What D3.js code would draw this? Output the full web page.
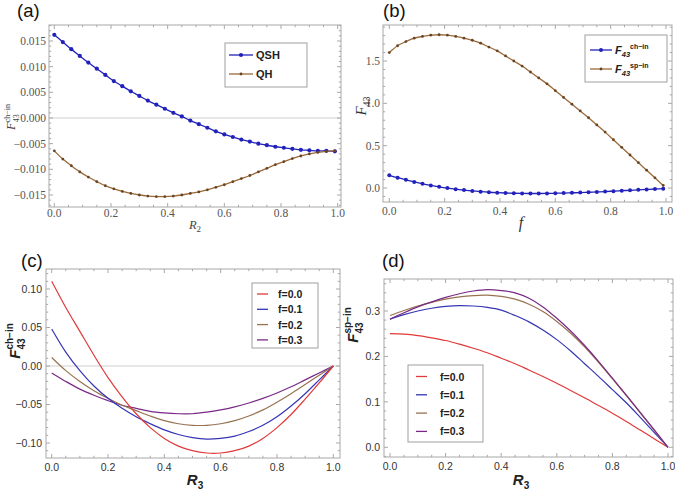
<!DOCTYPE html>
<html><head><meta charset="utf-8">
<script src="https://cdn.jsdelivr.net/npm/d3@7"></script>
<style>body{margin:0;background:#fff}svg{display:block}</style>
</head><body>
<svg id="c" width="675" height="491"></svg>
<script>
// ---------- DATA ----------
const xA = [0,0.03,0.06,0.09,0.12,0.15,0.18,0.21,0.24,0.27,0.30,0.33,0.36,0.39,0.42,0.45,0.48,0.51,0.54,0.57,0.60,0.63,0.66,0.69,0.72,0.75,0.78,0.81,0.84,0.87,0.90,0.93,0.96,0.99];
const qshA = [0.0162,0.0148,0.0134,0.0121,0.0108,0.0096,0.0084,0.0072,0.0062,0.0052,0.0043,0.0034,0.0026,0.0018,0.0010,0.0003,-0.0005,-0.0012,-0.0019,-0.0026,-0.0032,-0.0037,-0.0042,-0.0046,-0.0050,-0.0053,-0.0056,-0.0058,-0.0060,-0.0062,-0.0063,-0.0064,-0.0064,-0.0065];
const qhA = [-0.0064,-0.0080,-0.0093,-0.0105,-0.0115,-0.0124,-0.0132,-0.0138,-0.0143,-0.0147,-0.0150,-0.0152,-0.0153,-0.0153,-0.0152,-0.0150,-0.0147,-0.0144,-0.0140,-0.0135,-0.0130,-0.0124,-0.0118,-0.0112,-0.0105,-0.0098,-0.0091,-0.0085,-0.0079,-0.0074,-0.0070,-0.0067,-0.0065,-0.0064];
const chB = [0.150,0.122,0.096,0.072,0.050,0.031,0.014,-0.001,-0.014,-0.025,-0.035,-0.043,-0.050,-0.055,-0.059,-0.062,-0.064,-0.065,-0.065,-0.064,-0.062,-0.060,-0.057,-0.054,-0.050,-0.046,-0.042,-0.037,-0.032,-0.027,-0.022,-0.017,-0.012,-0.008];
const spB = [1.60,1.68,1.73,1.77,1.79,1.805,1.81,1.805,1.79,1.77,1.745,1.71,1.665,1.62,1.56,1.50,1.44,1.37,1.30,1.23,1.15,1.07,0.99,0.91,0.83,0.745,0.66,0.57,0.48,0.39,0.30,0.21,0.12,0.03];

const xR = [0,0.05,0.10,0.15,0.20,0.25,0.30,0.35,0.40,0.45,0.50,0.55,0.60,0.65,0.70,0.75,0.80,0.85,0.90,0.95,1.00];
const fLabels = ["f=0.0","f=0.1","f=0.2","f=0.3"];
const chC_f0 = [0.110,0.076,0.045,0.014,-0.015,-0.040,-0.062,-0.080,-0.094,-0.104,-0.110,-0.113,-0.113,-0.110,-0.104,-0.094,-0.080,-0.063,-0.043,-0.022,0];
const chC_f1 = [0.048,0.018,-0.006,-0.026,-0.042,-0.055,-0.066,-0.075,-0.083,-0.089,-0.093,-0.095,-0.094,-0.091,-0.085,-0.077,-0.066,-0.052,-0.036,-0.018,0];
const chC_f2 = [0.011,-0.006,-0.020,-0.032,-0.042,-0.051,-0.058,-0.065,-0.071,-0.075,-0.077,-0.077,-0.075,-0.071,-0.065,-0.057,-0.047,-0.036,-0.024,-0.012,0];
const chC_f3 = [-0.009,-0.020,-0.030,-0.038,-0.045,-0.051,-0.055,-0.059,-0.061,-0.062,-0.062,-0.060,-0.057,-0.053,-0.048,-0.042,-0.035,-0.027,-0.018,-0.009,0];
const spD_f0 = [0.250,0.249,0.246,0.241,0.235,0.227,0.218,0.208,0.196,0.184,0.170,0.156,0.141,0.125,0.109,0.092,0.075,0.057,0.038,0.019,0];
const spD_f1 = [0.282,0.292,0.300,0.306,0.310,0.312,0.311,0.308,0.302,0.290,0.276,0.258,0.237,0.212,0.184,0.156,0.127,0.098,0.066,0.033,0];
const spD_f2 = [0.290,0.301,0.311,0.319,0.326,0.331,0.334,0.335,0.332,0.326,0.315,0.299,0.277,0.251,0.221,0.187,0.151,0.114,0.076,0.038,0];
const spD_f3 = [0.282,0.296,0.309,0.320,0.330,0.338,0.344,0.347,0.345,0.340,0.328,0.309,0.284,0.256,0.224,0.189,0.152,0.115,0.077,0.039,0];

const ticksX = [0,0.2,0.4,0.6,0.8,1.0];
const ticksYa = [-0.015,-0.010,-0.005,0,0.005,0.010,0.015];
const ticksYb = [0,0.5,1.0,1.5];
const ticksYc = [-0.10,-0.05,0,0.05,0.10];
const ticksYd = [0,0.1,0.2,0.3];

// ---------- DRAW ----------
const svg = d3.select("#c");
const FRAME = "#a8a8a8";
const C = {blueA:"#2222bb", brownA:"#9a6a3a", red:"#e03a3a", blue:"#3535b5", brown:"#977350", purple:"#7a2a86"};

function rich(parent, parts, x, y, rot, anchor) {
  const g = parent.append("g").attr("transform", `translate(${x},${y}) rotate(${rot||0})`);
  let cur = 0, stackMax = 0;
  parts.forEach(p => {
    const t = g.append("text").attr("x", cur).attr("y", p.dy || 0)
      .attr("font-family", p.family).attr("font-size", p.size)
      .attr("font-style", p.italic ? "italic" : "normal")
      .attr("font-weight", p.bold ? "bold" : "normal")
      .attr("fill", p.fill || "#222").text(p.t);
    const w = t.node().getComputedTextLength();
    if (p.stack) { stackMax = w; }
    else { cur += Math.max(w, stackMax); stackMax = 0; }
  });
  const off = anchor === "start" ? 0 : -cur / 2;
  g.selectAll("text").each(function(){ const s=d3.select(this); s.attr("x", +s.attr("x") + off); });
  return g;
}

function panel(o) {
  const x = d3.scaleLinear().domain([0,1]).range(o.xr);
  const y = d3.scaleLinear().domain(o.yd).range(o.yr);
  const g = svg.append("g");
  const [L,T,R,B] = o.frame;
  if (o.zero) g.append("line").attr("x1",L).attr("x2",R).attr("y1",y(0)).attr("y2",y(0)).attr("stroke","#cfcfcf").attr("stroke-width",1);
  g.append("rect").attr("x",L).attr("y",T).attr("width",R-L).attr("height",B-T).attr("fill","none").attr("stroke",FRAME).attr("stroke-width",1);
  const xMinor = d3.range(0, 1.0001, 0.05).filter(v => x(v) >= L && x(v) <= R);
  xMinor.forEach(v => {
    const major = ticksX.some(t => Math.abs(t - v) < 1e-6);
    const len = major ? 4 : 2.2;
    g.append("line").attr("x1",x(v)).attr("x2",x(v)).attr("y1",B).attr("y2",B-len).attr("stroke",FRAME);
    g.append("line").attr("x1",x(v)).attr("x2",x(v)).attr("y1",T).attr("y2",T+len).attr("stroke",FRAME);
  });
  const [y0,y1] = [y.invert(B), y.invert(T)];
  const ym = d3.range(Math.ceil(y0/o.ym)*o.ym, y1, o.ym);
  ym.forEach(v => {
    const major = o.yt.some(t => Math.abs(t - v) < o.ym*0.01);
    const len = major ? 4 : 2.2;
    g.append("line").attr("x1",L).attr("x2",L+len).attr("y1",y(v)).attr("y2",y(v)).attr("stroke",FRAME);
    g.append("line").attr("x1",R).attr("x2",R-len).attr("y1",y(v)).attr("y2",y(v)).attr("stroke",FRAME);
  });
  g.selectAll(null).data(ticksX).enter().append("text")
    .attr("x", d => x(d)).attr("y", o.xlabY).attr("text-anchor","middle")
    .attr("font-family", o.tf).attr("font-size", o.ts).attr("fill", o.tc)
    .text(d => o.xfmt(d));
  g.selectAll(null).data(o.yt).enter().append("text")
    .attr("x", L - o.ylabGap).attr("y", d => y(d) + o.ts*0.35).attr("text-anchor","end")
    .attr("font-family", o.tf).attr("font-size", o.ts).attr("fill", o.tc)
    .text(d => o.yfmt(d).replace("-", "\u2212"));
  const line = d3.line().x(d => x(d[0])).y(d => y(d[1])).curve(d3.curveCatmullRom.alpha(0.5));
  o.series.forEach(s => {
    const pts = s.xs.map((v,i) => [v, s.ys[i]]);
    g.append("path").attr("d", line(pts)).attr("fill","none").attr("stroke", s.color).attr("stroke-width", s.w || 1.3);
    if (s.r) g.selectAll(null).data(pts).enter().append("circle")
      .attr("cx", d => x(d[0])).attr("cy", d => y(d[1])).attr("r", s.r).attr("fill", s.mc || s.color);
  });
  return {x, y, g};
}

const fmt1 = d3.format(".1f"), fmt2 = d3.format(".2f"), fmt3 = d3.format(".3f");
const SERIF = "'Liberation Serif','DejaVu Serif',serif";
const SANS = "'Liberation Sans','Arial',sans-serif";

panel({frame:[49,25,341,207], xr:[54.3,337.7], yd:[-0.015,0.015], yr:[195,41], yt:ticksYa, ym:0.001, zero:true,
  xlabY:217, ylabGap:3, tf:SERIF, ts:11.5, tc:"#555", xfmt:fmt1, yfmt:fmt3,
  series:[{xs:xA, ys:qshA, color:C.blueA, r:2.1}, {xs:xA, ys:qhA, color:C.brownA, r:1.4, mc:"#6a4422"}]});
panel({frame:[383,25,672,202], xr:[389.3,666], yd:[0,1.5], yr:[188,61], yt:ticksYb, ym:0.1, zero:false,
  xlabY:215, ylabGap:3, tf:SERIF, ts:11.5, tc:"#555", xfmt:fmt1, yfmt:fmt1,
  series:[{xs:xA, ys:spB, color:C.brownA, r:1.4, mc:"#6a4422"}, {xs:xA, ys:chB, color:C.blueA, r:2.0}]});
const cCols = [C.red, C.blue, C.brown, C.purple];
panel({frame:[46,269,340,458], xr:[51.7,333.3], yd:[-0.1,0.1], yr:[443,289], yt:ticksYc, ym:0.01, zero:true,
  xlabY:471, ylabGap:4, tf:SANS, ts:10.5, tc:"#333", xfmt:fmt1, yfmt:fmt2,
  series:[chC_f3,chC_f2,chC_f1,chC_f0].map((ys,i)=>({xs:xR, ys, color:cCols[3-i], w:1.2}))});
panel({frame:[384,279,673,457], xr:[390,668], yd:[0,0.3], yr:[447.3,311], yt:ticksYd, ym:0.02, zero:false,
  xlabY:470, ylabGap:4, tf:SANS, ts:10.5, tc:"#333", xfmt:fmt1, yfmt:fmt1,
  series:[spD_f0,spD_f1,spD_f2,spD_f3].map((ys,i)=>({xs:xR, ys, color:cCols[i], w:1.2}))});

[["(a)",17,17],["(b)",383,17],["(c)",21,267],["(d)",382,267]].forEach(([t,x,y]) =>
  svg.append("text").attr("x",x).attr("y",y).attr("font-family",SANS).attr("font-size",18.5).attr("fill","#111").text(t));

rich(svg, [{t:"R",family:SERIF,size:12.5,italic:true,fill:"#444"},{t:"2",family:SERIF,size:9,dy:3,fill:"#444"}], 195, 229, 0);
rich(svg, [{t:"f",family:SERIF,size:16,italic:true,fill:"#333"}], 521, 228, 0);
rich(svg, [{t:"R",family:SANS,size:15,italic:true,bold:true,fill:"#222"},{t:"3",family:SANS,size:10,bold:true,dy:4,fill:"#222"}], 195, 485, 0);
rich(svg, [{t:"R",family:SANS,size:15,italic:true,bold:true,fill:"#222"},{t:"3",family:SANS,size:10,bold:true,dy:4,fill:"#222"}], 521, 485, 0);

rich(svg, [{t:"F",family:SERIF,size:12.5,italic:true,fill:"#444"},{t:"ch\u2212in",family:SERIF,size:8,dy:-5,fill:"#444",stack:true},{t:"43",family:SERIF,size:8,dy:4,fill:"#444"}], 15, 117, -90);
rich(svg, [{t:"F",family:SERIF,size:15,italic:true,fill:"#333"},{t:"43",family:SERIF,size:10,dy:4,fill:"#333"}], 366, 106, -90);
rich(svg, [{t:"F",family:SANS,size:15,italic:true,bold:true,fill:"#222"},{t:"ch\u2212in",family:SANS,size:10,bold:true,dy:-7,fill:"#222",stack:true},{t:"43",family:SANS,size:10,bold:true,dy:5,fill:"#222"}], 20, 341, -90);
rich(svg, [{t:"F",family:SANS,size:15,italic:true,bold:true,fill:"#222"},{t:"sp\u2212in",family:SANS,size:10,bold:true,dy:-7,fill:"#222",stack:true},{t:"43",family:SANS,size:10,bold:true,dy:5,fill:"#222"}], 358, 325, -90);

function legendBox(x0,y0,x1,y1){ svg.append("rect").attr("x",x0).attr("y",y0).attr("width",x1-x0).attr("height",y1-y0).attr("fill","#fff").attr("stroke","#a0a0a0").attr("stroke-width",1); }
legendBox(225,43,307,87);
[["QSH",C.blueA,55,2.1,C.blueA],["QH",C.brownA,74,1.4,"#6a4422"]].forEach(([t,c,y,r,mc]) => {
  svg.append("line").attr("x1",229).attr("x2",253).attr("y1",y).attr("y2",y).attr("stroke",c).attr("stroke-width",1.3);
  svg.append("circle").attr("cx",241).attr("cy",y).attr("r",r).attr("fill",mc);
  svg.append("text").attr("x",256).attr("y",y+4).attr("font-family",SANS).attr("font-weight","bold").attr("font-size",11).attr("fill","#222").text(t);
});
legendBox(585,35,667,82);
[["ch\u2212in",C.blueA,50,2.0,C.blueA],["sp\u2212in",C.brownA,69,1.4,"#6a4422"]].forEach(([t,c,y,r,mc]) => {
  svg.append("line").attr("x1",590).attr("x2",612).attr("y1",y).attr("y2",y).attr("stroke",c).attr("stroke-width",1.3);
  svg.append("circle").attr("cx",601).attr("cy",y).attr("r",r).attr("fill",mc);
  rich(svg, [{t:"F",family:SANS,size:11,italic:true,bold:true},{t:"43",family:SANS,size:7.5,bold:true,italic:true,dy:3},{t:t,family:SANS,size:7,bold:true,dy:-5}], 615, y+4, 0, "start");
});
legendBox(252,283,318,348);
fLabels.forEach((t,i) => {
  const y = 294 + 15.3*i;
  svg.append("line").attr("x1",257).attr("x2",268).attr("y1",y).attr("y2",y).attr("stroke",cCols[i]).attr("stroke-width",1.3);
  svg.append("text").attr("x",278).attr("y",y+4).attr("font-family",SANS).attr("font-weight","bold").attr("font-size",10.5).attr("fill","#222").text(t);
});
legendBox(408,365,483,442);
fLabels.forEach((t,i) => {
  const y = 376.5 + 18.3*i;
  svg.append("line").attr("x1",416).attr("x2",427).attr("y1",y).attr("y2",y).attr("stroke",cCols[i]).attr("stroke-width",1.3);
  svg.append("text").attr("x",440).attr("y",y+4).attr("font-family",SANS).attr("font-weight","bold").attr("font-size",10.5).attr("fill","#222").text(t);
});
</script>
</body></html>
